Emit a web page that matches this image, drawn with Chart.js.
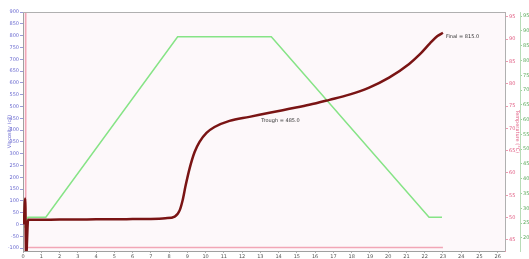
<!DOCTYPE html>
<html lang="en">
<head>
  <meta charset="UTF-8" />
  <title>Viscosity profile</title>
  <script src="https://cdn.jsdelivr.net/npm/chart.js"></script>
  <style>
    html, body { margin: 0; padding: 0; background: #ffffff; }
    #wrap { width: 529px; height: 259px; position: relative; }
  </style>
</head>
<body>
  <div id="wrap"><canvas id="rvaChart"></canvas></div>

  <script>
// data
const timeVisc = [0.05, 0.12, 0.17, 0.28, 1, 2, 3, 4, 5, 6, 7, 7.8, 8.31, 8.58, 8.74, 8.91, 9.13, 9.40, 9.67, 10.05, 10.49, 11.31, 12.40, 13.50, 14.59, 15.68, 16.78, 17.87, 18.96, 20.05, 21.15, 21.7, 22.3, 22.7, 23.0];
const viscosity = [0, 110, -140, 20, 20, 21, 21, 22, 22, 23, 24, 27, 34, 60, 102, 166, 239, 307, 350, 388, 413, 439, 456, 473, 490, 507, 528, 550, 580, 622, 680, 718, 768, 798, 812];

const timeGreen = [0.1, 0.27, 1.25, 8.47, 13.6, 22.24, 22.95];
const greenVals = [235, 270, 270, 880, 880, 270, 270];

const timePink = [0.14, 0.15, 23.0];
const pinkVals = [97, 43.3, 43.3];

const xTicks = [0, 1, 2, 3, 4, 5, 6, 7, 8, 9, 10, 11, 12, 13, 14, 15, 16, 17, 18, 19, 20, 21, 22, 23, 24, 25, 26];
const viscTicks = [900, 850, 800, 750, 700, 650, 600, 550, 500, 450, 400, 350, 300, 250, 200, 150, 100, 50, 0, -50, -100];
const redTicks = [95, 90, 85, 80, 75, 70, 65, 60, 55, 50, 45];
const greenTicks = [950, 900, 850, 800, 750, 700, 650, 600, 550, 500, 450, 400, 350, 300, 250, 200];

const noteX = [13.05, 23.0];
const noteY = [470, 812];
const noteText = ['Trough = 485.0', 'Final = 815.0'];

function pairs(xs, ys) {
    return xs.map((x, i) => ({ x: x, y: ys[i] }));
}

function fixedTicks(list) {
    return scale => { scale.ticks = list.map(v => ({ value: v })); };
}

// plot background + frame + the two value notes
const framePlugin = {
    id: 'frame',
    beforeDraw(chart) {
        const a = chart.chartArea, ctx = chart.ctx;
        ctx.save();
        ctx.fillStyle = '#fdf8fa';
        ctx.fillRect(a.left, a.top, a.right - a.left, a.bottom - a.top);
        ctx.restore();
    },
    afterDraw(chart) {
        const a = chart.chartArea, ctx = chart.ctx;
        ctx.save();
        ctx.strokeStyle = '#b0b0b0';
        ctx.lineWidth = 1;
        ctx.beginPath();
        ctx.moveTo(a.left, a.top + 0.5);
        ctx.lineTo(a.right + 0.5, a.top + 0.5);
        ctx.lineTo(a.right + 0.5, a.bottom);
        ctx.stroke();

        const xs = chart.scales.x, ys = chart.scales.y;
        ctx.fillStyle = '#333333';
        ctx.font = '5px "DejaVu Sans"';
        ctx.textBaseline = 'middle';
        ctx.textAlign = 'left';
        ctx.fillText(noteText[0], xs.getPixelForValue(noteX[0]), ys.getPixelForValue(noteY[0]) + 7);
        ctx.fillText(noteText[1], xs.getPixelForValue(noteX[1]) + 3, ys.getPixelForValue(noteY[1]) + 4);
        ctx.restore();
    }
};

const tickFont = { family: 'DejaVu Sans', size: 5 };

new Chart(document.getElementById('rvaChart'), {
    type: 'line',
    data: {
        datasets: [
            {
                label: 'Viscosity',
                data: pairs(timeVisc, viscosity),
                yAxisID: 'y',
                borderColor: '#7a1414',
                borderWidth: 2.5,
                pointRadius: 0,
                cubicInterpolationMode: 'monotone'
            },
            {
                label: 'Profile',
                data: pairs(timeGreen, greenVals),
                yAxisID: 'yGreen',
                borderColor: '#86e486',
                borderWidth: 1.5,
                pointRadius: 0,
                tension: 0
            },
            {
                label: 'Trace',
                data: pairs(timePink, pinkVals),
                yAxisID: 'yRed',
                borderColor: '#f2a6b6',
                borderWidth: 1.5,
                pointRadius: 0,
                tension: 0
            }
        ]
    },
    options: {
        responsive: true,
        maintainAspectRatio: false,
        animation: false,
        layout: { padding: { top: 12, left: 0, right: 0, bottom: 0 } },
        plugins: {
            legend: { display: false },
            tooltip: { enabled: false }
        },
        scales: {
            x: {
                type: 'linear',
                min: 0,
                max: 26.4,
                afterBuildTicks: fixedTicks(xTicks),
                afterFit: s => { s.height = 8; },
                grid: { drawOnChartArea: false, tickLength: 2, color: '#b0b0b0' },
                border: { color: '#a0a0a0' },
                ticks: { font: tickFont, color: '#555555', padding: 1, maxRotation: 0, autoSkip: false }
            },
            y: {
                position: 'left',
                min: -112,
                max: 900,
                afterBuildTicks: fixedTicks(viscTicks),
                afterFit: s => { s.width = 23; },
                grid: { drawOnChartArea: false, tickLength: 3, color: '#9a9ad8' },
                border: { color: '#a0a0a0' },
                ticks: { font: tickFont, color: '#6a6ad0', padding: 1, autoSkip: false },
                title: { display: true, text: 'Viscosity (cP)', color: '#6a6ad0', font: tickFont, padding: { top: 7, bottom: 0 } }
            },
            yRed: {
                position: 'right',
                weight: 0,
                min: 42.5,
                max: 96.1,
                afterBuildTicks: fixedTicks(redTicks),
                afterFit: s => { s.width = 15; },
                grid: { drawOnChartArea: false, tickLength: 3, color: '#ee9ab0' },
                border: { color: '#ee9ab0' },
                ticks: { font: tickFont, color: '#e05a80', padding: 1, autoSkip: false },
                title: { display: true, text: 'Temperature (°C)', color: '#e05a80', font: tickFont, padding: { top: 0, bottom: 1 } }
            },
            yGreen: {
                position: 'right',
                weight: 1,
                min: 156,
                max: 963.6,
                afterBuildTicks: fixedTicks(greenTicks),
                afterFit: s => { s.width = 9; },
                grid: { drawOnChartArea: false, tickLength: 2, color: '#9ed09e' },
                border: { color: '#b8dcb8' },
                ticks: { font: tickFont, color: '#5aa85a', padding: 1, autoSkip: false }
            }
        }
    },
    plugins: [framePlugin]
});
  </script>
</body>
</html>
